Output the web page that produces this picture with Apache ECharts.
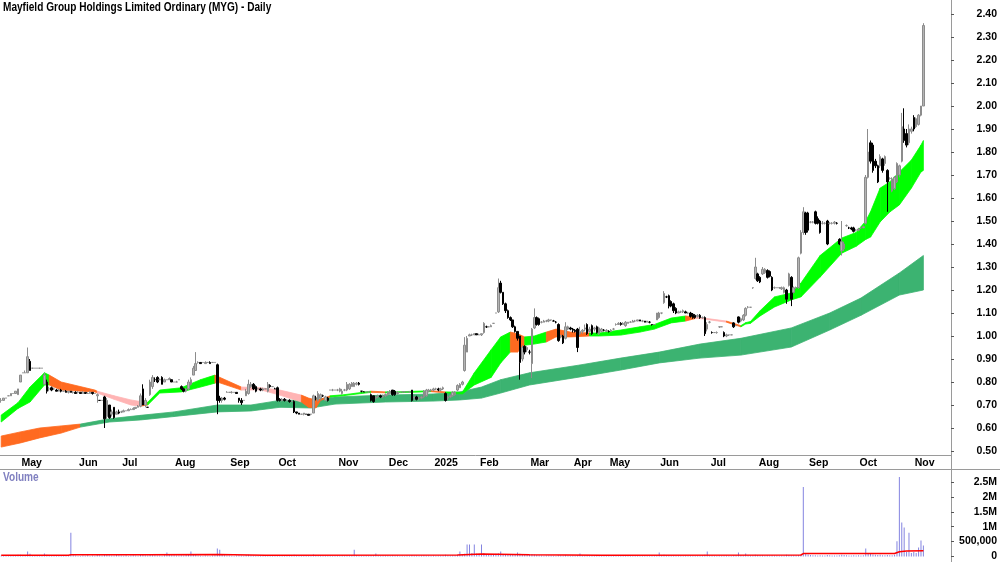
<!DOCTYPE html>
<html>
<head>
<meta charset="utf-8">
<script src="https://cdn.jsdelivr.net/npm/echarts@6/dist/echarts.min.js"></script>
<style>
html, body { margin: 0; padding: 0; background: #fff; }
#chart { width: 1000px; height: 562px; }
</style>
</head>
<body>
<div id="chart"></div>
<script>
// daily bars, [open, close, low, high], one array per month
var candlesPre = [
  [0.72,0.72,0.71,0.73],[0.72,0.73,0.72,0.73],[0.73,0.73,0.73,0.73],[0.74,0.74,0.74,0.74],
  [0.74,0.75,0.74,0.75],[0.75,0.75,0.75,0.75],[0.75,0.76,0.75,0.76],[0.745,0.77,0.745,0.77]
];
var candlesMay24 = [
  [0.80,0.83,0.80,0.83],[0.84,0.84,0.84,0.84],[0.84,0.84,0.84,0.85],[0.84,0.91,0.84,0.95],
  [0.89,0.85,0.85,0.90],[0.86,0.86,0.86,0.86],[0.86,0.86,0.86,0.86],[0.86,0.86,0.86,0.86],
  [0.86,0.86,0.86,0.86],[0.86,0.86,0.86,0.86],[0.79,0.83,0.79,0.84],[0.80,0.76,0.75,0.81],
  [0.77,0.77,0.76,0.78],[0.775,0.765,0.76,0.78],[0.77,0.77,0.765,0.775],[0.765,0.76,0.76,0.77],
  [0.76,0.765,0.76,0.77],[0.765,0.76,0.755,0.77],[0.76,0.76,0.76,0.76],[0.76,0.755,0.755,0.765],
  [0.755,0.76,0.75,0.76],[0.76,0.755,0.755,0.76],[0.755,0.755,0.75,0.76],[0.755,0.75,0.75,0.76]
];
var candlesJun24 = [
  [0.755,0.755,0.75,0.76],[0.755,0.75,0.75,0.755],[0.75,0.755,0.75,0.76],[0.755,0.75,0.75,0.755],
  [0.75,0.75,0.75,0.755],[0.75,0.755,0.75,0.76],[0.755,0.75,0.745,0.755],[0.75,0.75,0.75,0.75],
  [0.74,0.745,0.71,0.75],[0.72,0.72,0.72,0.72],[0.72,0.72,0.72,0.72],[0.735,0.64,0.60,0.74],
  [0.65,0.72,0.64,0.73],[0.70,0.645,0.64,0.70],[0.66,0.67,0.65,0.68],[0.69,0.645,0.64,0.69],
  [0.66,0.67,0.66,0.675],[0.67,0.665,0.66,0.68]
];
var candlesJul24 = [
  [0.67,0.67,0.665,0.675],[0.67,0.675,0.67,0.68],[0.675,0.675,0.675,0.675],[0.675,0.68,0.675,0.685],
  [0.68,0.68,0.68,0.685],[0.68,0.685,0.68,0.69],[0.685,0.69,0.685,0.69],[0.69,0.695,0.69,0.70],
  [0.695,0.74,0.69,0.75],[0.77,0.70,0.70,0.79],[0.70,0.72,0.69,0.73],[0.69,0.69,0.69,0.69],
  [0.745,0.80,0.74,0.81],[0.78,0.82,0.77,0.83],[0.81,0.81,0.80,0.82],[0.82,0.80,0.795,0.825],
  [0.81,0.81,0.81,0.815],[0.82,0.79,0.79,0.825],[0.80,0.81,0.80,0.815],[0.81,0.81,0.81,0.81],
  [0.81,0.815,0.81,0.82],[0.81,0.80,0.80,0.81]
];
var candlesAug24 = [
  [0.80,0.80,0.80,0.80],[0.80,0.80,0.80,0.805],[0.81,0.81,0.81,0.81],[0.78,0.77,0.765,0.785],
  [0.77,0.76,0.755,0.775],[0.76,0.77,0.755,0.775],[0.77,0.80,0.765,0.81],[0.79,0.81,0.785,0.82],
  [0.83,0.86,0.83,0.87],[0.85,0.88,0.85,0.93],[0.885,0.885,0.88,0.89],[0.885,0.88,0.88,0.885],
  [0.885,0.885,0.885,0.885],[0.88,0.885,0.88,0.89],[0.885,0.885,0.885,0.885],[0.885,0.88,0.88,0.89],
  [0.885,0.885,0.885,0.885],[0.885,0.885,0.885,0.885],[0.875,0.72,0.66,0.88],[0.73,0.72,0.71,0.74],
  [0.72,0.73,0.71,0.735],[0.73,0.725,0.72,0.735],[0.755,0.755,0.755,0.76]
];
var candlesSep24 = [
  [0.755,0.755,0.755,0.755],[0.755,0.755,0.75,0.76],[0.755,0.755,0.755,0.755],[0.755,0.75,0.75,0.755],
  [0.73,0.72,0.71,0.73],[0.72,0.71,0.70,0.73],[0.72,0.72,0.72,0.72],[0.74,0.76,0.74,0.77],
  [0.75,0.79,0.745,0.81],[0.78,0.79,0.775,0.80],[0.79,0.77,0.765,0.795],[0.78,0.76,0.755,0.785],
  [0.77,0.77,0.77,0.775],[0.77,0.765,0.76,0.775],[0.765,0.77,0.76,0.775],[0.77,0.77,0.77,0.77],
  [0.76,0.79,0.755,0.80],[0.785,0.78,0.775,0.79],[0.78,0.78,0.78,0.78],[0.77,0.77,0.77,0.775]
];
var candlesOct24 = [
  [0.775,0.72,0.715,0.78],[0.725,0.72,0.715,0.73],[0.72,0.725,0.715,0.73],[0.725,0.72,0.715,0.73],
  [0.72,0.72,0.715,0.725],[0.72,0.715,0.71,0.725],[0.715,0.715,0.715,0.72],[0.715,0.67,0.665,0.72],
  [0.67,0.665,0.66,0.67],[0.665,0.66,0.66,0.665],[0.66,0.66,0.66,0.66],[0.66,0.665,0.655,0.665],
  [0.66,0.66,0.66,0.66],[0.66,0.655,0.655,0.66],[0.66,0.66,0.655,0.66],[0.665,0.74,0.665,0.745],
  [0.73,0.73,0.72,0.74],[0.72,0.75,0.715,0.76],[0.73,0.745,0.72,0.75],[0.74,0.74,0.735,0.745],
  [0.72,0.735,0.72,0.74],[0.73,0.72,0.715,0.735],[0.765,0.765,0.765,0.765],[0.765,0.765,0.76,0.77],
  [0.765,0.765,0.765,0.765]
];
var candlesNov24 = [
  [0.765,0.765,0.76,0.77],[0.76,0.77,0.755,0.775],[0.75,0.76,0.745,0.77],[0.765,0.765,0.76,0.77],
  [0.765,0.79,0.76,0.80],[0.77,0.79,0.765,0.795],[0.78,0.795,0.78,0.80],[0.78,0.795,0.78,0.80],
  [0.79,0.795,0.785,0.80],[0.795,0.79,0.785,0.80],[0.76,0.76,0.755,0.76],[0.757,0.757,0.757,0.76],
  [0.757,0.757,0.757,0.757],[0.757,0.757,0.755,0.76],[0.745,0.72,0.715,0.75],[0.74,0.715,0.71,0.74],
  [0.73,0.735,0.725,0.74],[0.735,0.74,0.73,0.745],[0.74,0.735,0.73,0.745],[0.735,0.74,0.73,0.745],
  [0.74,0.745,0.735,0.75]
];
var candlesDec24 = [
  [0.745,0.755,0.74,0.76],[0.75,0.76,0.745,0.765],[0.765,0.745,0.74,0.765],[0.76,0.745,0.74,0.765],
  [0.75,0.755,0.745,0.76],[0.755,0.755,0.755,0.755],[0.757,0.757,0.757,0.757],[0.757,0.757,0.757,0.757],
  [0.757,0.757,0.757,0.757],[0.757,0.757,0.755,0.76],[0.765,0.72,0.715,0.765],[0.73,0.735,0.72,0.74],
  [0.735,0.725,0.72,0.74],[0.73,0.73,0.72,0.735],[0.73,0.735,0.725,0.74],[0.735,0.76,0.73,0.765],
  [0.74,0.765,0.735,0.77],[0.76,0.765,0.755,0.77],[0.765,0.765,0.76,0.77]
];
var candlesJan25 = [
  [0.765,0.77,0.76,0.775],[0.77,0.77,0.765,0.775],[0.77,0.765,0.76,0.775],[0.765,0.77,0.76,0.775],
  [0.77,0.775,0.765,0.78],[0.75,0.72,0.715,0.755],[0.73,0.735,0.72,0.74],[0.735,0.74,0.73,0.745],
  [0.74,0.755,0.735,0.76],[0.745,0.755,0.74,0.76],[0.765,0.785,0.76,0.79],[0.775,0.79,0.775,0.795],
  [0.79,0.80,0.785,0.805],[0.85,0.96,0.845,0.995],[0.93,0.99,0.93,1.0],[1.0,1.005,1.0,1.01],
  [1.005,1.005,1.0,1.01],[1.005,1.01,1.005,1.01],[1.01,1.005,1.005,1.01]
];
var candlesFeb25 = [
  [1.005,1.005,1.005,1.01],[1.005,1.01,1.0,1.01],[1.015,1.055,1.01,1.06],[1.04,1.04,1.035,1.045],
  [1.04,1.04,1.04,1.04],[1.04,1.045,1.04,1.05],[1.055,1.055,1.055,1.055],[1.10,1.10,1.10,1.10],
  [1.105,1.21,1.10,1.25],[1.23,1.19,1.185,1.24],[1.19,1.14,1.135,1.19],[1.14,1.11,1.10,1.145],
  [1.11,1.08,1.075,1.115],[1.08,1.07,1.065,1.085],[1.07,1.04,1.035,1.07],[1.04,1.02,1.015,1.045],
  [1.02,0.99,0.98,1.02],[1.0,0.885,0.81,1.0],[0.90,0.95,0.89,0.96],[0.955,0.93,0.92,0.96],
  [0.94,0.95,0.93,0.955]
];
var candlesMar25 = [
  [0.93,0.93,0.92,0.94],[0.88,1.03,0.817,1.035],[1.035,1.08,1.03,1.12],[1.08,1.05,1.045,1.085],
  [1.075,1.05,1.045,1.08],[1.06,1.06,1.055,1.065],[1.06,1.065,1.06,1.07],[1.065,1.065,1.06,1.07],
  [1.065,1.07,1.06,1.075],[1.07,1.07,1.065,1.07],[1.065,1.065,1.065,1.07],[1.06,1.06,1.055,1.065],
  [1.05,0.98,0.975,1.055],[1.0,1.0,0.99,1.005],[1.0,0.97,0.965,1.005],[0.99,1.04,0.985,1.06],
  [1.03,1.04,1.025,1.045],[1.035,1.03,1.025,1.04]
];
var candlesApr25 = [
  [1.03,1.025,1.015,1.035],[1.025,1.02,1.015,1.03],[1.03,0.95,0.93,1.035],[1.01,1.02,1.005,1.04],
  [1.02,1.025,1.01,1.03],[1.03,1.035,1.02,1.05],[1.05,1.01,1.005,1.055],[1.02,1.03,1.015,1.04],
  [1.045,1.01,1.005,1.05],[1.03,1.035,1.02,1.04],[1.04,1.015,1.01,1.045],[1.01,1.035,1.005,1.04],
  [1.02,1.03,1.015,1.035],[1.025,1.025,1.02,1.03],[1.02,1.025,1.02,1.03]
];
var candlesMay25 = [
  [1.02,1.02,1.015,1.025],[1.02,1.025,1.02,1.03],[1.03,1.03,1.025,1.035],[1.05,1.05,1.045,1.055],
  [1.05,1.055,1.05,1.06],[1.055,1.05,1.045,1.06],[1.05,1.055,1.05,1.06],[1.045,1.06,1.04,1.065],
  [1.055,1.06,1.055,1.06],[1.06,1.06,1.06,1.065],[1.06,1.065,1.06,1.07],[1.065,1.065,1.06,1.07],
  [1.065,1.07,1.065,1.07],[1.07,1.065,1.065,1.07],[1.065,1.065,1.06,1.07],[1.065,1.06,1.06,1.065],
  [1.06,1.065,1.06,1.065],[1.06,1.06,1.055,1.065],[1.05,1.05,1.045,1.05],[1.05,1.05,1.05,1.05],
  [1.07,1.10,1.07,1.10]
];
var candlesJun25 = [
  [1.08,1.10,1.075,1.105],[1.10,1.10,1.095,1.10],[1.145,1.185,1.14,1.195],[1.17,1.17,1.165,1.175],
  [1.175,1.13,1.12,1.18],[1.15,1.13,1.125,1.155],[1.14,1.11,1.10,1.145],[1.12,1.10,1.095,1.125],
  [1.10,1.105,1.10,1.11],[1.105,1.105,1.10,1.11],[1.105,1.11,1.10,1.115],[1.105,1.10,1.10,1.11],
  [1.10,1.10,1.095,1.105],[1.10,1.085,1.08,1.105],[1.095,1.08,1.075,1.10],[1.09,1.08,1.075,1.095],
  [1.085,1.09,1.08,1.095],[1.09,1.08,1.075,1.095],[1.08,1.08,1.075,1.085],[1.08,1.01,1.0,1.085],
  [1.03,1.05,1.02,1.06]
];
var candlesJul25 = [
  [1.06,1.06,1.055,1.065],[1.015,1.015,1.01,1.02],[1.015,1.015,1.015,1.015],[1.015,1.015,1.01,1.02],
  [1.04,1.04,1.035,1.04],[1.04,1.04,1.04,1.04],[1.015,1.0,0.995,1.02],[1.0,1.005,0.995,1.01],
  [1.005,1.005,1.0,1.005],[1.005,1.005,1.005,1.005],[1.057,1.04,1.035,1.06],[1.045,1.045,1.045,1.045],
  [1.083,1.06,1.055,1.085],[1.065,1.075,1.06,1.08],[1.07,1.09,1.065,1.095],[1.09,1.12,1.085,1.125],
  [1.125,1.125,1.12,1.13],[1.125,1.125,1.125,1.125],[1.21,1.21,1.205,1.21],[1.25,1.30,1.245,1.34]
];
var candlesAug25 = [
  [1.27,1.24,1.235,1.275],[1.255,1.235,1.23,1.26],[1.27,1.29,1.265,1.30],[1.275,1.29,1.27,1.295],
  [1.285,1.255,1.25,1.29],[1.28,1.26,1.255,1.285],[1.255,1.20,1.195,1.26],[1.21,1.21,1.205,1.215],
  [1.21,1.21,1.21,1.21],[1.21,1.21,1.205,1.21],[1.205,1.21,1.2,1.215],[1.19,1.21,1.185,1.215],
  [1.20,1.16,1.14,1.205],[1.22,1.27,1.215,1.275],[1.255,1.16,1.13,1.26],[1.19,1.21,1.185,1.215],
  [1.21,1.21,1.205,1.215],[1.21,1.34,1.205,1.345],[1.36,1.45,1.355,1.46],[1.45,1.54,1.44,1.56],
  [1.535,1.45,1.44,1.54]
];
var candlesSep25 = [
  [1.535,1.46,1.45,1.54],[1.495,1.495,1.49,1.50],[1.495,1.495,1.49,1.50],[1.54,1.49,1.485,1.545],
  [1.51,1.49,1.485,1.52],[1.50,1.45,1.445,1.505],[1.49,1.49,1.485,1.50],[1.49,1.49,1.485,1.495],
  [1.50,1.40,1.395,1.505],[1.49,1.49,1.485,1.495],[1.49,1.49,1.485,1.495],[1.49,1.495,1.485,1.50],
  [1.49,1.49,1.485,1.495],[1.42,1.40,1.395,1.425],[1.37,1.41,1.35,1.50],[1.38,1.40,1.37,1.41],
  [1.48,1.48,1.475,1.485],[1.47,1.47,1.465,1.475],[1.47,1.465,1.46,1.475],[1.47,1.455,1.45,1.475],
  [1.46,1.46,1.455,1.465]
];
var candlesOct25 = [
  [1.46,1.465,1.455,1.47],[1.47,1.47,1.465,1.475],[1.47,1.475,1.47,1.48],[1.49,1.69,1.485,1.70],
  [1.69,1.80,1.685,1.90],[1.84,1.76,1.75,1.85],[1.83,1.72,1.71,1.84],[1.76,1.74,1.73,1.77],
  [1.74,1.67,1.665,1.745],[1.74,1.78,1.73,1.79],[1.77,1.72,1.71,1.775],[1.75,1.78,1.74,1.785],
  [1.72,1.67,1.54,1.725],[1.685,1.685,1.68,1.69],[1.63,1.68,1.625,1.69],[1.64,1.69,1.635,1.695],
  [1.67,1.75,1.665,1.755],[1.70,1.74,1.69,1.745],[1.76,1.91,1.755,1.97],[1.90,1.85,1.84,1.99],
  [1.88,1.83,1.82,1.90],[1.84,1.90,1.83,1.92],[1.89,1.90,1.88,1.91]
];
var candlesNov25 = [
  [1.95,1.90,1.89,1.96],[1.91,1.945,1.905,1.95],[1.92,1.96,1.915,1.965],[1.96,2.0,1.955,2.0],
  [2.0,2.35,2.0,2.36]
];

// volume in thousands, same month split
var volPre   = [30,20,40,25,30,20,50,60];
var volMay24 = [60,40,30,170,90,20,15,20,25,30,100,60,40,30,25,20,30,20,15,25,20,800,40,30];
var volJun24 = [20,15,30,25,40,20,30,25,50,40,30,80,60,45,35,30,50,40];
var volJul24 = [30,25,40,20,30,45,35,25,60,70,40,30,60,45,40,35,30,25,40,130,50,40];
var volAug24 = [40,30,35,45,30,50,60,170,70,50,30,25,20,30,25,20,30,40,270,230,60,40,30];
var volSep24 = [30,25,20,30,40,35,25,50,60,40,30,25,20,30,25,45,35,25,30,40];
var volOct24 = [50,30,25,35,30,25,20,60,40,30,25,20,30,25,20,70,50,45,40,30,25,30,35,20,25];
var volNov24 = [30,25,40,30,45,35,40,230,50,30,25,20,30,25,45,40,100,30,25,30,35];
var volDec24 = [30,25,40,35,30,20,25,20,30,25,50,35,30,25,30,40,35,30,25];
var volJan25 = [30,25,35,30,40,60,40,35,45,40,60,170,80,90,400,400,120,400,100];
var volFeb25 = [90,400,120,80,60,50,70,90,110,170,80,60,50,70,60,50,130,90,70,60,50];
var volMar25 = [60,80,70,50,40,30,25,30,35,30,25,20,45,40,35,50,30,25];
var volApr25 = [30,25,40,100,35,30,45,30,40,35,30,25,20,30,25];
var volMay25 = [25,30,20,25,30,35,25,20,30,25,20,25,30,20,25,30,20,25,30,35,40];
var volJun25 = [130,50,60,40,45,35,30,25,30,25,20,30,25,35,30,25,30,35,40,60,170];
var volJul25 = [40,30,25,20,30,25,35,30,25,20,45,40,130,50,40,100,45,35,40,60];
var volAug25 = [50,40,45,35,40,30,45,35,30,25,30,35,60,50,45,40,45,50,60,2330,80];
var volSep25 = [70,50,40,45,35,40,30,35,50,40,30,35,30,45,60,50,40,35,30,40,35];
var volOct25 = [40,35,45,270,120,90,70,60,50,60,45,40,50,45,40,60,510,2670,1140,970,150,800,120];
var volNov25 = [150,120,300,540,370];

// volume average line: [bar index, thousands]
var volAvg = [[0,40],[28,40],[29,60],[60,60],[90,65],[110,45],[190,50],[200,80],[220,60],
  [250,45],[333,50],[334,100],[372,100],[374,160],[377,185],[384,190]];

// moving-average ribbons: [bar index, upper, lower, colour of next segment]
var longBand = [
  [0,0.565,0.517,'o'],[8,0.583,0.535,'o'],[16,0.60,0.557,'o'],[25,0.609,0.578,'o'],
  [33,0.617,0.604,'d'],[45,0.64,0.626,'d'],[58,0.655,0.635,'d'],[72,0.67,0.65,'d'],
  [90,0.70,0.67,'d'],[104,0.70,0.674,'d'],[116,0.72,0.69,'d'],[129,0.722,0.687,'d'],
  [139,0.735,0.704,'d'],[160,0.743,0.713,'d'],[180,0.748,0.717,'d'],[191,0.757,0.722,'d'],
  [200,0.778,0.73,'d'],[208,0.81,0.752,'d'],[220,0.84,0.787,'d'],[241,0.874,0.822,'d'],
  [258,0.904,0.852,'d'],[274,0.93,0.883,'d'],[291,0.965,0.904,'d'],[308,0.99,0.917,'d'],
  [329,1.035,0.952,'d'],[345,1.10,1.026,'d'],[358,1.165,1.09,'d'],[374,1.274,1.178,'d'],
  [384,1.35,1.20,'d']
];
var shortBand = [
  [0,0.656,0.626,'g'],[7,0.71,0.685,'g'],[12,0.778,0.713,'g'],[18,0.84,0.787,'g'],
  [20,0.83,0.787,'o'],[25,0.80,0.765,'o'],[39,0.765,0.757,'o'],[40,0.76,0.752,'p'],
  [47,0.74,0.725,'p'],[54,0.722,0.70,'p'],[58,0.715,0.695,'o'],[61,0.712,0.70,'g'],
  [66,0.765,0.752,'g'],[75,0.775,0.757,'g'],[83,0.81,0.778,'g'],[89,0.83,0.795,'o'],
  [90,0.825,0.80,'o'],[100,0.778,0.765,'p'],[108,0.775,0.766,'p'],[116,0.765,0.743,'p'],
  [125,0.743,0.713,'o'],[128,0.73,0.69,'o'],[131,0.722,0.687,'o'],[133,0.725,0.72,'o'],
  [137,0.74,0.735,'g'],[143,0.745,0.741,'g'],[154,0.76,0.755,'o'],[160,0.757,0.753,'g'],
  [164,0.757,0.753,'g'],[179,0.762,0.758,'o'],[185,0.757,0.753,'g'],[192,0.755,0.748,'g'],
  [197,0.84,0.787,'g'],[204,0.94,0.82,'g'],[208,0.996,0.883,'g'],[212,1.017,0.93,'o'],
  [215,1.01,0.93,'o'],[218,0.996,0.96,'g'],[222,1.00,0.965,'g'],[227,1.017,0.974,'o'],
  [231,1.03,0.996,'o'],[237,1.017,0.996,'o'],[245,1.013,1.0,'g'],[249,1.013,1.0,'g'],
  [258,1.026,1.004,'g'],[266,1.04,1.017,'g'],[272,1.05,1.03,'g'],[279,1.078,1.057,'g'],
  [285,1.087,1.065,'o'],[289,1.082,1.076,'p'],[291,1.08,1.076,'p'],[302,1.065,1.06,'o'],
  [308,1.045,1.04,'g'],[310,1.058,1.052,'g'],[312,1.063,1.055,'g'],[316,1.11,1.087,'g'],
  [322,1.17,1.126,'g'],[329,1.187,1.157,'g'],[333,1.23,1.17,'g'],[341,1.35,1.256,'g'],
  [350,1.426,1.36,'g'],[356,1.45,1.39,'g'],[360,1.50,1.42,'g'],[362,1.54,1.43,'g'],
  [366,1.643,1.496,'g'],[370,1.67,1.539,'g'],[374,1.713,1.57,'g'],[379,1.765,1.643,'g'],
  [383,1.83,1.713,'g'],[384,1.85,1.72,'g']
];
var bandColors = { g: '#00ff00', o: '#ff6a20', p: '#ffb4b4', d: '#3cb371' };

// month tick labels: [first bar index of month, label]
var monthTicks = [[8,'May'],[32,'Jun'],[50,'Jul'],[72,'Aug'],[95,'Sep'],[115,'Oct'],[140,'Nov'],
  [161,'Dec'],[180,'2025'],[199,'Feb'],[220,'Mar'],[238,'Apr'],[253,'May'],[274,'Jun'],
  [295,'Jul'],[315,'Aug'],[336,'Sep'],[357,'Oct'],[380,'Nov']];

var candles = [].concat(candlesPre, candlesMay24, candlesJun24, candlesJul24, candlesAug24,
  candlesSep24, candlesOct24, candlesNov24, candlesDec24, candlesJan25, candlesFeb25,
  candlesMar25, candlesApr25, candlesMay25, candlesJun25, candlesJul25, candlesAug25,
  candlesSep25, candlesOct25, candlesNov25);
var volumes = [].concat(volPre, volMay24, volJun24, volJul24, volAug24, volSep24, volOct24,
  volNov24, volDec24, volJan25, volFeb25, volMar25, volApr25, volMay25, volJun25, volJul25,
  volAug25, volSep25, volOct25, volNov25);

var slots = 396; // chart leaves room after the last bar
var cats = [];
for (var i = 0; i < slots; i++) cats.push(String(i));
var tickMap = {};
monthTicks.forEach(function (t) { tickMap[t[0]] = t[1]; });
function isTick(idx) { return tickMap[idx] !== undefined; }

var FONT = "'Liberation Sans', Arial, sans-serif";
var FS = 10.5;
var LINE = '#9a9a9a';

function bandRenderer(band) {
  return function (params, api) {
    var a = band[params.dataIndex], b = band[params.dataIndex + 1];
    var c = bandColors[a[3]];
    return {
      type: 'polygon',
      shape: { points: [api.coord([a[0], a[1]]), api.coord([b[0], b[1]]),
                        api.coord([b[0], b[2]]), api.coord([a[0], a[2]])] },
      style: { fill: c, stroke: c, lineWidth: 0.8 }
    };
  };
}
function segs(band) {
  return band.slice(0, -1).map(function (p) { return [p[0], p[1]]; });
}

var chart = echarts.init(document.getElementById('chart'));
var option = {
  animation: false,
  backgroundColor: '#ffffff',
  grid: [
    { left: 0, width: 951, top: 0.2, height: 450.8 },
    { left: 0, width: 951, top: 473, height: 84 }
  ],
  xAxis: [
    { type: 'category', gridIndex: 0, data: cats, boundaryGap: true, offset: 4,
      axisLine: { lineStyle: { color: LINE, width: 1 } },
      axisTick: { interval: isTick, length: 3, lineStyle: { color: '#555' } },
      axisLabel: { interval: isTick, formatter: function (v, idx) { return tickMap[idx] || ''; },
        align: 'left', margin: 3, padding: [0, 0, 0, 1],
        fontFamily: FONT, fontSize: FS, fontWeight: 'bold', color: '#000' },
      splitLine: { show: false } },
    { type: 'category', gridIndex: 1, data: cats, boundaryGap: true, show: false }
  ],
  yAxis: [
    { type: 'value', gridIndex: 0, position: 'right', min: 0.5, max: 2.46, interval: 0.1,
      axisLine: { show: false },
      axisTick: { show: true, length: 3, lineStyle: { color: '#555' } },
      axisLabel: { margin: 46, align: 'right', showMaxLabel: false,
        formatter: function (v) { return v > 2.45 ? '' : v.toFixed(2); },
        fontFamily: FONT, fontSize: FS, fontWeight: 'bold', color: '#000' },
      splitLine: { show: false } },
    { type: 'value', gridIndex: 1, position: 'right', min: 0, max: 2800, interval: 500,
      axisLine: { show: false },
      axisTick: { show: true, length: 3, lineStyle: { color: '#555' } },
      axisLabel: { margin: 46, align: 'right', showMaxLabel: false,
        formatter: function (v) {
          if (v === 0) return '0';
          if (v === 500) return '500,000';
          if (v > 2500) return '';
          return (v / 1000) + 'M';
        },
        fontFamily: FONT, fontSize: FS, fontWeight: 'bold', color: '#000' },
      splitLine: { show: false } }
  ],
  series: [
    { type: 'custom', name: 'long', xAxisIndex: 0, yAxisIndex: 0, z: 1, silent: true,
      renderItem: bandRenderer(longBand), data: segs(longBand) },
    { type: 'custom', name: 'short', xAxisIndex: 0, yAxisIndex: 0, z: 2, silent: true,
      renderItem: bandRenderer(shortBand), data: segs(shortBand) },
    { type: 'candlestick', xAxisIndex: 0, yAxisIndex: 0, z: 3, barWidth: 2,
      data: candles,
      itemStyle: { color: '#b4b4b4', color0: '#000000', borderColor: '#8c8c8c',
        borderColor0: '#000000', borderWidth: 1 } },
    { type: 'bar', xAxisIndex: 1, yAxisIndex: 1, barWidth: 1, data: volumes,
      itemStyle: { color: '#8484e0' } },
    { type: 'line', xAxisIndex: 1, yAxisIndex: 1, data: volAvg, symbol: 'none',
      lineStyle: { color: '#ff0000', width: 1.5 }, z: 4 }
  ],
  graphic: [
    { type: 'text', x: 3, y: 2, scaleX: 0.84, silent: true,
      style: { text: 'Mayfield Group Holdings Limited Ordinary (MYG) - Daily',
        font: 'bold 12px ' + FONT, fill: '#000', verticalAlign: 'top' } },
    { type: 'text', x: 3, y: 472, scaleX: 0.84, silent: true,
      style: { text: 'Volume', font: 'bold 12px ' + FONT, fill: '#8080c0', verticalAlign: 'top' } },
    { type: 'line', silent: true, shape: { x1: 951.5, y1: 0, x2: 951.5, y2: 562 },
      style: { stroke: LINE, lineWidth: 1 } },
    { type: 'line', silent: true, shape: { x1: 0, y1: 469.5, x2: 1000, y2: 469.5 },
      style: { stroke: LINE, lineWidth: 1 } }
  ]
};
chart.setOption(option);
</script>
</body>
</html>
